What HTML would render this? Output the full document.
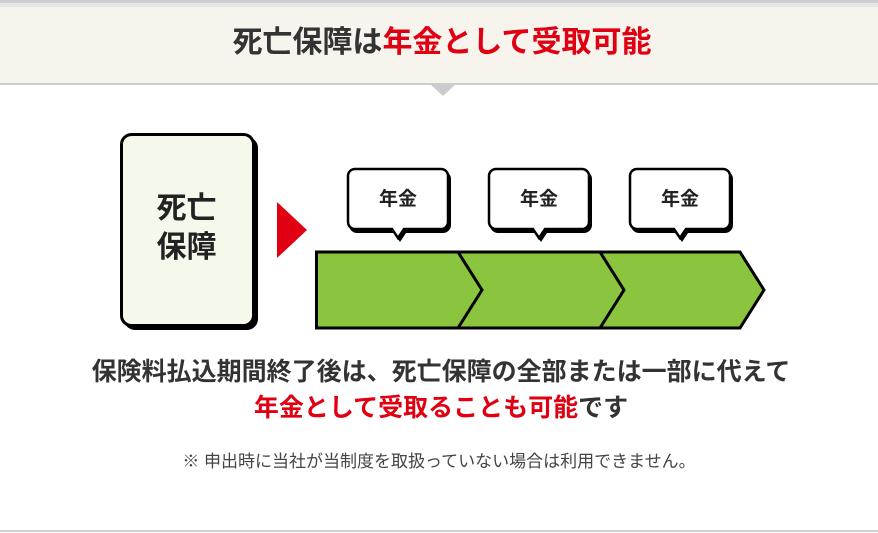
<!DOCTYPE html>
<html><head><meta charset="utf-8"><style>
body{margin:0;width:878px;height:533px;overflow:hidden;background:#fff;font-family:"Liberation Sans","Noto Sans CJK JP",sans-serif;position:relative}
.t{position:absolute;white-space:nowrap;font-weight:bold}
</style></head><body>
<div style="position:absolute;left:0;top:0;width:878px;height:3px;background:#cfcfcf"></div>
<div style="position:absolute;left:0;top:3px;width:878px;height:4px;background:#e6e6e6"></div>
<div style="position:absolute;left:0;top:7px;width:878px;height:76px;background:#f7f4ee"></div>
<div style="position:absolute;left:0;top:83px;width:878px;height:2px;background:#cccccc"></div>
<svg style="position:absolute;left:0;top:0" width="878" height="533">
<polygon points="430,84 456,84 443,96" fill="#cccccc"/>
<rect x="124" y="137" width="134" height="193" rx="11" fill="#000"/>
<rect x="121.5" y="134.5" width="132" height="191" rx="10" fill="#f4f9ec" stroke="#000" stroke-width="3"/>
<polygon points="277,202 307,230 277,258" fill="#e00012"/>
<g stroke="#000" stroke-width="3" fill="#8bc43f" stroke-linejoin="miter">
<polygon points="316.5,252 740,252 764,290 740,328 316.5,328"/>
<polyline points="458,252 482,290 458,328" fill="none"/>
<polyline points="600,252 624,290 600,328" fill="none"/>
</g>
<g id="b">
<path d="M357,171 h86 a8,8 0 0 1 8,8 v46 a8,8 0 0 1 -8,8 h-37 l-6,9 l-6,-9 h-37 a8,8 0 0 1 -8,-8 v-46 a8,8 0 0 1 8,-8z" fill="#000"/>
<path d="M355,169 h86 a7,7 0 0 1 7,7 v46 a7,7 0 0 1 -7,7 h-37 l-6,9 l-6,-9 h-37 a7,7 0 0 1 -7,-7 v-46 a7,7 0 0 1 7,-7z" fill="#fff" stroke="#000" stroke-width="2.5"/>
<text x="398" y="205" font-size="19" font-weight="bold" text-anchor="middle" fill="#222" font-family="Liberation Sans,Noto Sans CJK JP,sans-serif">年金</text>
</g>
<use href="#b" x="141"/>
<use href="#b" x="282"/>
<line x1="0" y1="531" x2="878" y2="531" stroke="#d0d0d0" stroke-width="2"/>
</svg>
<div class="t" style="left:0;width:884px;text-align:center;top:24px;font-size:30px;line-height:38px;color:#333">死亡保障は<span style="color:#e00012">年金として受取可能</span></div>
<div class="t" style="left:119px;width:135px;text-align:center;top:189px;font-size:30px;line-height:39px;color:#222">死亡<br>保障</div>
<div class="t" style="left:0;width:882px;text-align:center;top:354px;font-size:25px;line-height:36px;color:#333">保険料払込期間終了後は、死亡保障の全部または一部に代えて<br><span style="color:#e00012">年金として受取ることも可能</span>です</div>
<div class="t" style="left:0;width:878px;text-align:center;top:451px;font-size:17px;line-height:22px;color:#444;font-weight:normal">※ 申出時に当社が当制度を取扱っていない場合は利用できません。</div>
</body></html>
